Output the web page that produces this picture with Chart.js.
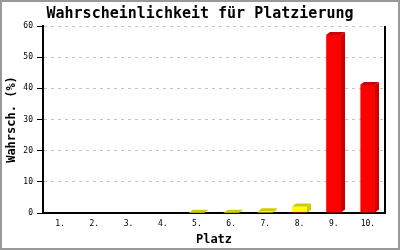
<!DOCTYPE html>
<html>
<head>
<meta charset="utf-8">
<script src="https://cdn.jsdelivr.net/npm/chart.js@4/dist/chart.umd.min.js"></script>
<style>
  html, body { margin: 0; padding: 0; background: #fff; }
  #wrap { width: 400px; height: 250px; position: relative; }
</style>
</head>
<body>
<div id="wrap"><canvas id="chart" width="400" height="250"></canvas></div>
<script>
const places = ['1.', '2.', '3.', '4.', '5.', '6.', '7.', '8.', '9.', '10.'];
// two stacked parts
const redValues = [0, 0, 0, 0, 0, 0, 0, 0.3, 57.1, 41.1];
const yellowValues = [0, 0, 0, 0, 0.05, 0.05, 0.55, 1.8, 0, 0];
const yTicks = [0, 10, 20, 30, 40, 50, 60];

const FONT = '"DejaVu Sans Mono", "Liberation Mono", monospace';
const DX = 4, DY = 3;

const shade = {
    '#ff0000': { top: '#cc0000', side: '#cc0000' },
    '#ffff00': { top: '#cccc00', side: '#cccc00' }
};

// fake 3d: side and top faces on each bar
const bars3d = {
    id: 'bars3d',
    afterDatasetsDraw(chart) {
        const ctx = chart.ctx;
        const n = places.length;
        for (let i = 0; i < n; i++) {
            let topDs = -1;
            chart.data.datasets.forEach((ds, d) => { if (ds.data[i] > 0) topDs = d; });
            chart.data.datasets.forEach((ds, d) => {
                if (!(ds.data[i] > 0)) return;
                const el = chart.getDatasetMeta(d).data[i];
                const half = el.width / 2;
                const l = Math.round(el.x - half), r = Math.round(el.x + half);
                const t = el.y, b = el.base;
                const c = shade[ds.backgroundColor];
                ctx.save();
                ctx.fillStyle = c.side;
                ctx.beginPath();
                ctx.moveTo(r, b);
                ctx.lineTo(r, t);
                ctx.lineTo(r + DX, t - DY);
                ctx.lineTo(r + DX, b - DY);
                ctx.closePath();
                ctx.fill();
                if (d === topDs) {
                    ctx.fillStyle = c.top;
                    ctx.beginPath();
                    ctx.moveTo(l, t);
                    ctx.lineTo(l + DX, t - DY);
                    ctx.lineTo(r + DX, t - DY);
                    ctx.lineTo(r, t);
                    ctx.closePath();
                    ctx.fill();
                }
                ctx.restore();
            });
        }
    }
};

const frame = {
    id: 'frame',
    afterDraw(chart) {
        const ctx = chart.ctx;
        const a = chart.chartArea;
        ctx.save();
        ctx.strokeStyle = '#000';
        ctx.lineWidth = 2;
        ctx.beginPath();
        ctx.moveTo(a.right, a.top);
        ctx.lineTo(a.right, a.bottom);
        ctx.stroke();
        ctx.strokeStyle = '#999';
        ctx.lineWidth = 2;
        ctx.strokeRect(1, 1, chart.width - 2, chart.height - 2);
        ctx.restore();
    }
};

new Chart(document.getElementById('chart'), {
    type: 'bar',
    data: {
        labels: places,
        datasets: [{
            data: redValues,
            backgroundColor: '#ff0000',
            borderWidth: 0,
            barPercentage: 0.88,
            categoryPercentage: 0.5
        }, {
            data: yellowValues,
            backgroundColor: '#ffff00',
            borderWidth: 0,
            barPercentage: 0.88,
            categoryPercentage: 0.5
        }]
    },
    options: {
        responsive: false,
        animation: false,
        layout: { padding: 0 },
        plugins: {
            legend: { display: false },
            tooltip: { enabled: false },
            title: {
                display: true,
                text: 'Wahrscheinlichkeit für Platzierung',
                color: '#000',
                font: { family: FONT, size: 15, weight: 'bold' },
                padding: { top: 5, bottom: 3 }
            }
        },
        scales: {
            x: {
                stacked: true,
                grid: { display: false, drawTicks: false },
                border: { color: '#000', width: 2 },
                ticks: {
                    color: '#000',
                    padding: 6,
                    font: { family: FONT, size: 8 },
                    maxRotation: 0
                },
                title: {
                    display: true,
                    text: 'Platz',
                    color: '#000',
                    font: { family: FONT, size: 12, weight: 'bold' },
                    padding: { top: 2, bottom: 3 }
                },
                afterFit: s => { s.height = 37; }
            },
            y: {
                stacked: true,
                min: 0,
                max: 60,
                afterBuildTicks: s => { s.ticks = yTicks.map(v => ({ value: v })); },
                grid: {
                    color: '#c4c4c4',
                    tickColor: '#000',
                    tickLength: 6,
                    tickWidth: 1,
                    lineWidth: 1
                },
                border: { color: '#000', width: 2, dash: [3, 4] },
                ticks: {
                    color: '#000',
                    padding: 4,
                    font: { family: FONT, size: 8 }
                },
                title: {
                    display: true,
                    text: 'Wahrsch. (%)',
                    color: '#000',
                    font: { family: FONT, size: 12, weight: 'bold' },
                    padding: { top: 5, bottom: 0 }
                },
                afterFit: s => { s.width = 43; }
            },
            // empty right margin so the title stays centred on the canvas
            yRight: {
                position: 'right',
                display: true,
                ticks: { display: false },
                grid: { display: false, drawTicks: false },
                border: { display: false },
                afterFit: s => { s.width = 15; }
            }
        }
    },
    plugins: [bars3d, frame]
});
</script>
</body>
</html>
